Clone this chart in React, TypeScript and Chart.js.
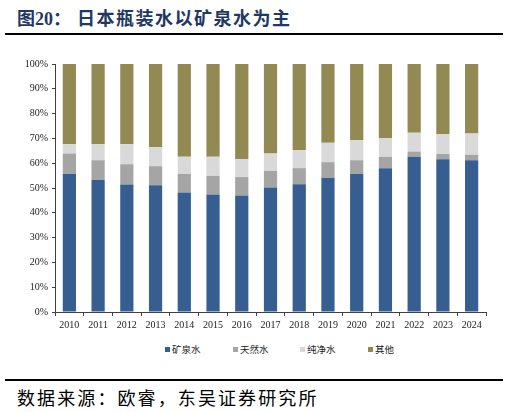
import React, { useRef, useEffect } from 'react';
import { Chart, registerables } from 'chart.js';

Chart.register(...registerables);

// years on the x axis
const years = ['2010', '2011', '2012', '2013', '2014', '2015', '2016', '2017', '2018', '2019', '2020', '2021', '2022', '2023', '2024'];

// shares in percent
const mineralWater = [55.6, 53.2, 51.4, 51.1, 48.2, 47.4, 47.0, 50.2, 51.5, 54.0, 55.6, 58.0, 62.6, 61.6, 61.2];
const naturalWater = [8.3, 8.0, 8.2, 7.7, 7.5, 7.5, 7.4, 6.7, 6.5, 6.4, 5.6, 4.6, 2.1, 2.1, 2.2];
const pureWater = [3.7, 6.4, 8.0, 7.7, 6.9, 7.7, 7.2, 7.0, 7.3, 7.8, 8.1, 7.5, 7.6, 8.0, 8.6];
const otherWater = [32.4, 32.4, 32.4, 33.5, 37.4, 37.4, 38.4, 36.1, 34.7, 31.8, 30.7, 29.9, 27.7, 28.3, 28.0];

const seriesNames = ['矿泉水', '天然水', '纯净水', '其他'];
const seriesColors = ['#365E91', '#A5A5A5', '#D9D9D9', '#938953'];

// left edge of each legend entry
const legendX = [165, 233, 300, 368];

const App = () => {
    const chartRef = useRef<HTMLCanvasElement>(null);
    const chartInstanceRef = useRef<Chart | null>(null);

    useEffect(() => {
        document.body.style.margin = '0';
        const ctx = chartRef.current?.getContext('2d');
        if (!ctx) return;
        if (chartInstanceRef.current) chartInstanceRef.current.destroy();

        const values = [mineralWater, naturalWater, pureWater, otherWater];

        chartInstanceRef.current = new Chart(ctx, {
            type: 'bar',
            data: {
                labels: years,
                datasets: seriesNames.map((name, i) => ({
                    label: name,
                    data: values[i],
                    backgroundColor: seriesColors[i],
                    borderWidth: 0,
                    barPercentage: 0.46,
                    categoryPercentage: 1,
                })),
            },
            options: {
                responsive: false,
                animation: false,
                devicePixelRatio: 1,
                layout: { padding: { top: 14, right: 23, left: 0, bottom: 6 } },
                scales: {
                    x: {
                        stacked: true,
                        grid: {
                            drawOnChartArea: false,
                            drawTicks: true,
                            tickLength: 4,
                            color: '#404040',
                        },
                        border: { color: '#404040', width: 1 },
                        ticks: {
                            color: '#222',
                            padding: 3,
                            maxRotation: 0,
                            font: { family: "'Liberation Serif', serif", size: 10 },
                        },
                    },
                    y: {
                        stacked: true,
                        min: 0,
                        max: 100,
                        afterFit: (scale: any) => {
                            scale.width = 55;
                        },
                        grid: {
                            drawOnChartArea: false,
                            drawTicks: true,
                            tickLength: 3,
                            color: '#404040',
                        },
                        border: { color: '#404040', width: 1 },
                        ticks: {
                            stepSize: 10,
                            color: '#222',
                            padding: 4,
                            font: { family: "'Liberation Serif', serif", size: 10 },
                            callback: (v: any) => `${v}%`,
                        },
                    },
                },
                plugins: {
                    legend: { display: false },
                    tooltip: { enabled: false },
                },
            },
        });

        return () => {
            if (chartInstanceRef.current) {
                chartInstanceRef.current.destroy();
                chartInstanceRef.current = null;
            }
        };
    }, []);

    return (
        <div style={{ position: 'relative', width: 509, height: 412, background: '#fff', overflow: 'hidden' }}>
            <div
                style={{
                    position: 'absolute',
                    left: 17,
                    top: 7,
                    fontSize: 18,
                    lineHeight: '20px',
                    fontWeight: 'bold',
                    color: '#1F3864',
                    fontFamily: "'Liberation Serif', 'Noto Sans CJK SC', serif",
                    whiteSpace: 'nowrap',
                }}
            >
                <span>图20：</span>
                <span style={{ marginLeft: 6, letterSpacing: 1.5, fontFamily: "'Noto Sans CJK SC', sans-serif" }}>日本瓶装水以矿泉水为主</span>
            </div>
            <div style={{ position: 'absolute', left: 5, top: 33, width: 498, height: 2, background: '#000' }} />
            <canvas ref={chartRef} width={509} height={290} style={{ position: 'absolute', left: 0, top: 50 }} />
            {seriesNames.map((name, i) => (
                <div
                    key={name}
                    style={{
                        position: 'absolute',
                        left: legendX[i],
                        top: 343,
                        height: 12,
                        display: 'flex',
                        alignItems: 'center',
                        fontSize: 9.5,
                        color: '#222',
                        fontFamily: "'Noto Sans CJK SC', sans-serif",
                        whiteSpace: 'nowrap',
                    }}
                >
                    <span style={{ display: 'inline-block', width: 5, height: 5, background: seriesColors[i], marginRight: 2 }} />
                    {name}
                </div>
            ))}
            <div style={{ position: 'absolute', left: 5, top: 379, width: 498, height: 2, background: '#000' }} />
            <div
                style={{
                    position: 'absolute',
                    left: 17,
                    top: 386,
                    fontSize: 18,
                    lineHeight: '22px',
                    letterSpacing: 2.1,
                    color: '#000',
                    fontFamily: "'Noto Sans CJK SC', sans-serif",
                    whiteSpace: 'nowrap',
                }}
            >
                数据来源：欧睿，东吴证券研究所
            </div>
        </div>
    );
};

export default App;
